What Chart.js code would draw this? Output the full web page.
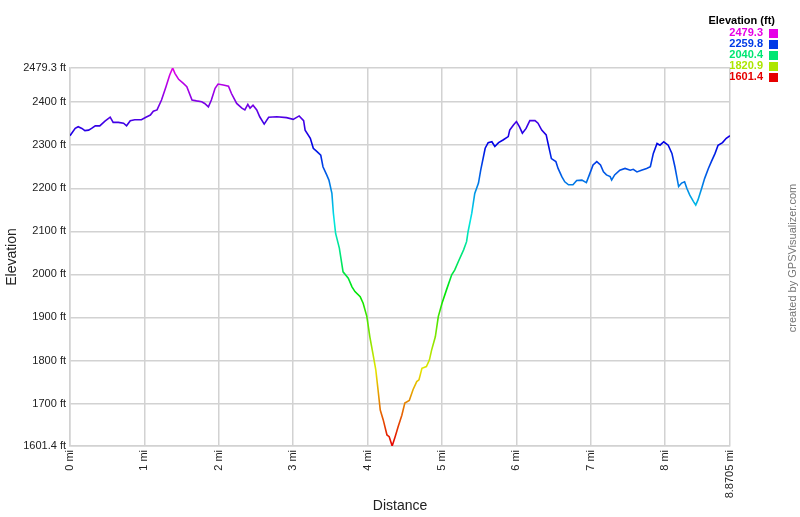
<!DOCTYPE html>
<html>
<head>
<meta charset="utf-8">
<script src="https://cdn.jsdelivr.net/npm/chart.js@4.4.1/dist/chart.umd.min.js"></script>
<style>
  html, body { margin: 0; padding: 0; background: #fff; }
  #wrap { width: 800px; height: 517px; position: relative; }
</style>
</head>
<body>
<div id="wrap"><canvas id="elevChart" width="800" height="517"></canvas></div>
<script>
// distance along track (mi)
const distances = [
  0.00, 0.07, 0.11, 0.16, 0.20, 0.25, 0.29, 0.34, 0.40, 0.47, 0.54, 0.58, 0.65, 0.72, 0.76, 0.81,
  0.87, 0.96, 1.02, 1.08, 1.12, 1.17, 1.23, 1.29, 1.34, 1.38, 1.41, 1.46, 1.52, 1.57, 1.64, 1.70,
  1.77, 1.81, 1.86, 1.90, 1.95, 1.99, 2.06, 2.13, 2.17, 2.24, 2.31, 2.35, 2.39, 2.42, 2.46, 2.51,
  2.55, 2.61, 2.67, 2.78, 2.91, 3.00, 3.08, 3.14, 3.16, 3.23, 3.27, 3.32, 3.37, 3.40, 3.45, 3.48,
  3.52, 3.54, 3.57, 3.62, 3.67, 3.74, 3.79, 3.83, 3.90, 3.94, 3.99, 4.03, 4.07, 4.11, 4.14, 4.17,
  4.21, 4.26, 4.29, 4.33, 4.37, 4.41, 4.46, 4.50, 4.56, 4.61, 4.66, 4.69, 4.73, 4.79, 4.83, 4.86,
  4.91, 4.95, 5.00, 5.06, 5.13, 5.17, 5.22, 5.29, 5.33, 5.35, 5.40, 5.44, 5.49, 5.52, 5.58, 5.62,
  5.67, 5.71, 5.76, 5.82, 5.89, 5.91, 5.96, 6.00, 6.04, 6.08, 6.13, 6.18, 6.25, 6.29, 6.34, 6.40,
  6.43, 6.47, 6.53, 6.56, 6.61, 6.65, 6.70, 6.76, 6.81, 6.88, 6.94, 6.98, 7.03, 7.08, 7.13, 7.17,
  7.21, 7.26, 7.28, 7.32, 7.39, 7.46, 7.53, 7.57, 7.62, 7.68, 7.75, 7.80, 7.84, 7.89, 7.93, 7.98,
  8.04, 8.09, 8.13, 8.18, 8.22, 8.26, 8.29, 8.33, 8.38, 8.41, 8.44, 8.49, 8.53, 8.58, 8.62, 8.67,
  8.71, 8.77, 8.82, 8.8705
];
// elevation (ft)
const elevations = [
  2322, 2339, 2343, 2339, 2334, 2335, 2339, 2345, 2345, 2356, 2365, 2353, 2353, 2351, 2345, 2357,
  2359, 2359, 2365, 2370, 2379, 2382, 2405, 2436, 2463, 2479.3, 2467, 2453, 2444, 2436, 2405, 2403,
  2401, 2397, 2389, 2405, 2432, 2442, 2440, 2437, 2420, 2397, 2386, 2382, 2395, 2386, 2393, 2382,
  2366, 2349, 2365, 2366, 2364, 2360, 2368, 2357, 2335, 2316, 2293, 2285, 2277, 2250, 2231, 2219,
  2188, 2142, 2095, 2061, 2006, 1991, 1971, 1960, 1948, 1933, 1902, 1855, 1817, 1778, 1732, 1685,
  1662, 1627, 1623, 1601.4, 1623, 1646, 1673, 1701, 1707, 1732, 1751, 1755, 1782, 1786, 1801, 1824,
  1855, 1902, 1933, 1964, 1999, 2010, 2030, 2057, 2076, 2099, 2142, 2188, 2212, 2242, 2293, 2306,
  2308, 2297, 2306, 2312, 2320, 2335, 2347, 2355, 2343, 2328, 2339, 2357, 2357, 2351, 2335, 2324,
  2300, 2269, 2262, 2246, 2227, 2215, 2208, 2208, 2218, 2219, 2213, 2231, 2254, 2262, 2254, 2238,
  2231, 2227, 2219, 2231, 2242, 2246, 2242, 2244, 2238, 2242, 2246, 2250, 2281, 2304, 2300, 2308,
  2300, 2281, 2250, 2204, 2212, 2215, 2200, 2184, 2169, 2161, 2173, 2200, 2223, 2246, 2262, 2281,
  2300, 2306, 2316, 2322
];
const yTicks = [1601.4, 1700, 1800, 1900, 2000, 2100, 2200, 2300, 2400, 2479.3];
const xTicks = [0, 1, 2, 3, 4, 5, 6, 7, 8, 8.8705];
const legendValues = [2479.3, 2259.8, 2040.4, 1820.9, 1601.4];

const yMin = 1601.4, yMax = 2479.3;

function colorFor(v) {
  const t = (v - yMin) / (yMax - yMin);
  return `hsl(${Math.round(t * 300)}, 100%, 45%)`;
}

function lineGradient(context) {
  const chart = context.chart;
  const { ctx, chartArea, scales } = chart;
  if (!chartArea) return colorFor(yMax);
  const yb = scales.y.getPixelForValue(yMin);
  const yt = scales.y.getPixelForValue(yMax);
  const g = ctx.createLinearGradient(0, yb, 0, yt);
  for (let i = 0; i <= 10; i++) {
    g.addColorStop(i / 10, `hsl(${i * 30}, 100%, 45%)`);
  }
  return g;
}

// legend + credit drawn on canvas
const extrasPlugin = {
  id: "extras",
  afterDraw(chart) {
    const c = chart.ctx;
    c.save();
    c.font = "bold 11px 'Liberation Sans', Arial, sans-serif";
    c.fillStyle = "#000";
    c.textAlign = "right";
    c.textBaseline = "middle";
    c.fillText("Elevation (ft)", 775, 21);
    legendValues.forEach((v, i) => {
      const y = 33 + i * 11;
      c.fillStyle = colorFor(v);
      c.fillText(v.toFixed(1), 763, y);
      c.fillRect(769, y - 4, 9, 9);
    });
    c.font = "11px 'Liberation Sans', Arial, sans-serif";
    c.fillStyle = "#777";
    c.translate(793, 258);
    c.rotate(-Math.PI / 2);
    c.textAlign = "center";
    c.fillText("created by GPSVisualizer.com", 0, 0);
    c.restore();
  }
};

const points = distances.map((d, i) => ({ x: d, y: elevations[i] }));
const tickFont = { family: "'Liberation Sans', Arial, sans-serif", size: 11 };
const gridStyle = { color: "#d2d2d2", lineWidth: 1.5, drawTicks: false };

new Chart(document.getElementById("elevChart").getContext("2d"), {
  type: "line",
  data: {
    datasets: [{
      data: points,
      borderColor: lineGradient,
      borderWidth: 1.6,
      pointRadius: 0,
      tension: 0,
      fill: false
    }]
  },
  options: {
    responsive: false,
    animation: false,
    layout: { padding: { top: 68, right: 70, left: 0, bottom: 0 } },
    plugins: { legend: { display: false }, tooltip: { enabled: false } },
    scales: {
      x: {
        type: "linear",
        min: 0,
        max: 8.8705,
        afterBuildTicks: (s) => { s.ticks = xTicks.map(v => ({ value: v })); },
        afterFit: (s) => { s.height = 71; },
        grid: gridStyle,
        border: { display: true, color: "#d2d2d2", width: 1.5 },
        ticks: {
          autoSkip: false,
          minRotation: 90,
          maxRotation: 90,
          padding: 4,
          color: "#222",
          font: tickFont,
          callback: (v) => v + " mi"
        },
        title: {
          display: true,
          text: "Distance",
          color: "#222",
          font: { family: "'Liberation Sans', Arial, sans-serif", size: 14 },
          padding: { top: 0, bottom: 2 }
        }
      },
      y: {
        type: "linear",
        min: yMin,
        max: yMax,
        afterBuildTicks: (s) => { s.ticks = yTicks.map(v => ({ value: v })); },
        afterFit: (s) => { s.width = 70; },
        grid: gridStyle,
        border: { display: true, color: "#d2d2d2", width: 1.5 },
        ticks: {
          padding: 4,
          color: "#222",
          font: tickFont,
          callback: (v) => v + " ft"
        },
        title: {
          display: true,
          text: "Elevation",
          color: "#222",
          font: { family: "'Liberation Sans', Arial, sans-serif", size: 14 },
          padding: { top: 4, bottom: 0 }
        }
      }
    }
  },
  plugins: [extrasPlugin]
});
</script>
</body>
</html>
